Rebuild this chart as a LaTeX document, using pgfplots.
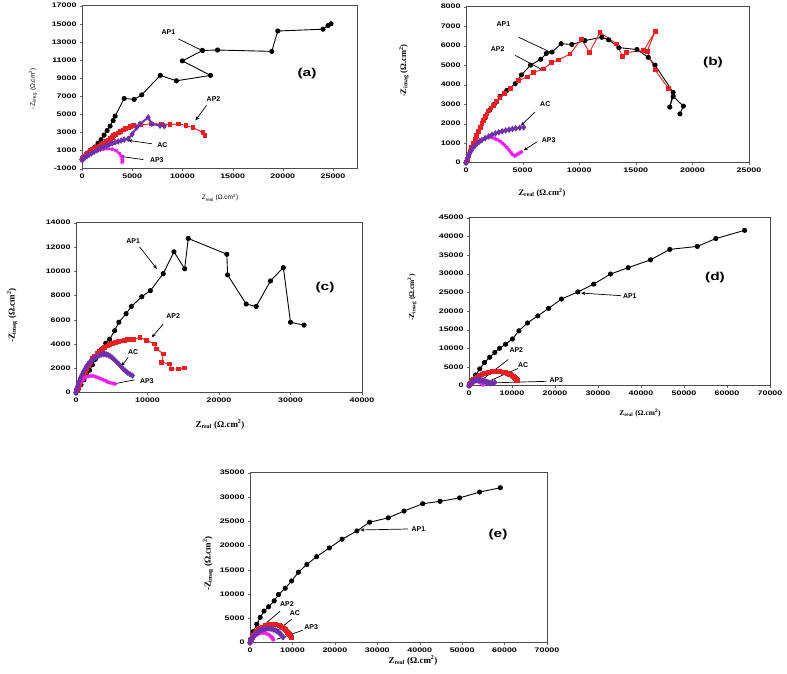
\documentclass[border=0pt]{standalone}
\usepackage{fontspec}
\setmainfont{Liberation Serif}
\setsansfont{Liberation Sans}
\newfontfamily\tickfont[FakeStretch=1.35]{Liberation Sans}
\usepackage{pgfplots}
\pgfplotsset{compat=1.18}
\usetikzlibrary{arrows.meta}
\definecolor{cred}{RGB}{235,30,35}
\definecolor{cpur}{RGB}{112,48,170}
\definecolor{cmag}{RGB}{240,30,240}
\pgfplotsset{
  panel/.style={scale only axis, anchor=south west,
    axis line style={draw=black!70,line width=1pt},
    tick label style={font=\tickfont\bfseries\fontsize{6.6}{7}\selectfont},
    /pgf/number format/assume math mode=true,
    /pgf/number format/1000 sep={},
    scaled ticks=false, tick align=outside, major tick length=2pt,
    tick style={black!60}, clip=false,
    xtick pos=bottom, ytick pos=left},
  ap1/.style={black, line width=0.9pt, mark=*, mark size=2.1pt},
  ap2/.style={cred, line width=0.9pt, mark=square*, mark size=1.9pt},
  ac/.style={cpur, line width=2pt, mark=diamond*, mark size=1.7pt},
  ap3/.style={cmag, line width=2pt, mark=asterisk, mark size=2pt, mark options={line width=1pt}},
}
\tikzset{
  ann/.style={font=\sffamily\bfseries\fontsize{7}{8}\selectfont},
  arr/.style={-{Stealth[length=4pt,width=3.5pt]}, line width=0.7pt}
}
\newcommand{\ylab}{-Z\textsubscript{imag} (Ω.cm\textsuperscript{2})}
\newcommand{\xlab}{Z\textsubscript{real} (Ω.cm\textsuperscript{2})}
\begin{document}
\begin{tikzpicture}[x=1bp,y=1bp]
\path (0,0) rectangle (787,-673);
% ---------- (a)
\begin{axis}[panel, at={(82bp,-168bp)}, width=275bp, height=163bp,
  xmin=0, xmax=27390, ymin=-1000, ymax=17000,
  xtick={0,5000,...,25000}, ytick={-1000,1000,...,17000}]
\addplot[ap1] coordinates {(0,0)(150,120)(400,350)(700,650)(1000,1000)(1300,1400)(1600,1800)(1900,2200)(2200,2700)(2500,3200)(2800,3700)(3100,4300)(3300,4800)(4200,6750)(5200,6650)(5950,7150)(7800,9300)(9400,8700)(12800,9300)(10000,10900)(12000,12050)(13500,12100)(18900,11950)(19500,14200)(24000,14400)(24500,14800)(24800,15000)};
\addplot[ap2] coordinates {(0,0)(80,150)(150,250)(250,380)(400,550)(550,700)(700,850)(850,980)(1000,1100)(1200,1220)(1460,1350)(1700,1500)(1900,1650)(2150,1820)(2400,2000)(2600,2150)(2800,2300)(3000,2480)(3120,2640)(3350,2800)(3600,2950)(3850,3100)(4100,3270)(4350,3400)(4600,3500)(4850,3620)(5100,3750)(5800,3850)(6940,3940)(7940,3940)(8760,3860)(9600,3940)(10360,3750)(11060,3530)(12050,3000)(12250,2640)};
\addplot[ap3] coordinates {(0,0)(150,150)(300,300)(500,450)(700,600)(950,750)(1200,900)(1500,1000)(1800,1100)(2150,1150)(2500,1200)(3000,1150)(3400,1000)(3700,700)(3900,400)(4000,100)(4050,-100)(4000,-300)};
\addplot[ac] coordinates {(0,0)(150,130)(300,250)(500,400)(700,550)(950,700)(1200,850)(1500,1020)(1800,1200)(2100,1350)(2400,1500)(2700,1650)(3000,1800)(3300,1900)(3600,2000)(3900,2100)(4200,2200)(4600,2300)(5000,2800)(5450,3560)(5780,3940)(6600,4660)(6940,3940)(7770,3750)(8200,3700)};
\node[ann] at (8600,14060) {AP1};
\draw[arr] (9600,13330) -- (12100,11970);
\node[ann] at (13100,6710) {AP2};
\draw[arr] (12400,5980) -- (11300,4330);
\node[ann] at (8000,1570) {AC};
\draw[arr] (6950,1750) -- (4600,2120);
\node[ann] at (7450,-80) {AP3};
\draw[arr] (6100,0) -- (3800,360);
\end{axis}
\node[font=\tickfont\bfseries\fontsize{11.5}{12}\selectfont] at (307,-73) {(a)};
\node[font=\sffamily\fontsize{6.5}{7}\selectfont] at (220,-197) {\xlab};
\node[font=\sffamily\fontsize{6.5}{7}\selectfont, rotate=90] at (33,-88) {\ylab};
% ---------- (b)
\begin{axis}[panel, at={(466bp,-162bp)}, width=283bp, height=156bp,
  xmin=0, xmax=25000, ymin=0, ymax=8000,
  xtick={0,5000,...,25000}, ytick={0,1000,...,8000}]
\addplot[ap1] coordinates {(0,0)(200,400)(500,800)(900,1300)(1300,1800)(1700,2300)(2100,2700)(2500,3000)(3000,3400)(3600,3700)(4350,4050)(4900,4500)(5700,5000)(6600,5300)(7100,5600)(7600,5670)(8400,6100)(9350,6060)(10500,6260)(12000,6430)(12600,6300)(13500,5900)(15100,5800)(16100,5400)(16700,5000)(18300,3600)(18000,2850)(18300,3400)(19200,2900)(18900,2500)};
\addplot[ap2] coordinates {(0,0)(100,180)(200,350)(350,580)(500,800)(650,1000)(800,1200)(950,1400)(1100,1600)(1250,1800)(1400,2000)(1550,2180)(1700,2350)(1850,2500)(2000,2650)(2200,2800)(2400,2950)(2700,3150)(3000,3360)(3400,3550)(3900,3800)(4650,4200)(5400,4400)(5950,4630)(6830,4800)(7570,5140)(8150,5270)(9190,5570)(10200,6340)(10900,5660)(11840,6680)(13300,6090)(13840,5440)(14200,5650)(15700,5750)(16700,6720)(16000,5700)(16700,4750)(17900,3800)};
\addplot[ap3] coordinates {(0,0)(100,200)(200,330)(300,450)(450,600)(600,750)(800,880)(1000,1000)(1250,1100)(1500,1200)(1750,1260)(2000,1300)(2250,1290)(2500,1250)(2750,1180)(3000,1100)(3200,1000)(3400,900)(3600,780)(3800,650)(3950,530)(4100,420)(4300,350)(4450,400)(4600,450)(4750,500)(4900,550)};
\addplot[ac] coordinates {(0,0)(100,200)(200,330)(300,450)(450,600)(600,750)(800,880)(1000,1000)(1200,1090)(1400,1160)(1700,1260)(2000,1350)(2300,1430)(2600,1500)(2900,1560)(3200,1610)(3500,1650)(3800,1690)(4100,1730)(4400,1760)(4750,1790)(5100,1810)};
\node[ann] at (3300,7100) {AP1};
\draw[arr] (4650,6430) -- (7700,5600);
\node[ann] at (2800,5800) {AP2};
\draw[arr] (4350,5500) -- (6850,4730);
\node[ann] at (7000,3000) {AC};
\draw[arr] (6100,2600) -- (4850,1900);
\node[ann] at (7300,1180) {AP3};
\draw[arr] (6250,1060) -- (5100,630);
\end{axis}
\node[font=\tickfont\bfseries\fontsize{11.5}{12}\selectfont] at (713,-62) {(b)};
\node[font=\bfseries\fontsize{8.5}{9}\selectfont] at (542,-192) {\xlab};
\node[font=\bfseries\fontsize{8.5}{9}\selectfont, rotate=90] at (404,-70) {\ylab};
% ---------- (c)
\begin{axis}[panel, at={(76bp,-392bp)}, width=286bp, height=170bp,
  xmin=0, xmax=40000, ymin=0, ymax=14000,
  xtick={0,10000,...,40000}, ytick={0,2000,...,14000}]
\addplot[ap1] coordinates {(0,0)(300,250)(700,650)(1100,1050)(1500,1450)(1900,1850)(2300,2300)(2700,2750)(3100,3150)(3600,3600)(4160,4080)(4700,4400)(5400,5100)(6000,5800)(7000,6500)(7750,7100)(9200,7900)(10400,8400)(12200,9800)(13700,11600)(15200,10200)(15700,12700)(21100,11400)(21200,9700)(23800,7300)(25200,7100)(27200,9200)(29000,10300)(30000,5800)(31900,5560)};
\addplot[ap2] coordinates {(0,0)(100,150)(200,300)(350,500)(500,700)(700,950)(900,1200)(1100,1450)(1300,1700)(1500,1950)(1700,2200)(1900,2400)(2100,2600)(2350,2800)(2600,3000)(2950,3200)(3300,3400)(3650,3580)(4000,3750)(4350,3850)(4700,3950)(5100,4050)(5500,4150)(5900,4200)(6300,4250)(6750,4300)(7200,4350)(7600,4370)(8000,4380)(8950,4550)(9900,4280)(11000,4010)(11300,3600)(12200,3190)(12000,2500)(13100,2360)(13400,1950)(14300,1950)(15200,2030)};
\addplot[ap3] coordinates {(0,0)(100,250)(200,400)(300,550)(450,700)(600,850)(800,980)(1000,1100)(1250,1200)(1500,1300)(1750,1350)(2000,1380)(2250,1380)(2500,1370)(2750,1310)(3000,1250)(3300,1180)(3600,1120)(3850,1050)(4100,980)(4300,920)(4500,860)(4750,820)(5000,780)(5250,750)(5450,720)};
\addplot[ac] coordinates {(0,0)(50,150)(100,300)(200,500)(300,700)(450,950)(600,1200)(800,1450)(1000,1700)(1250,1950)(1500,2200)(1750,2380)(2000,2550)(2300,2700)(2600,2850)(2900,2950)(3200,3050)(3500,3120)(3800,3170)(4050,3170)(4300,3150)(4550,3080)(4800,3000)(5100,2850)(5400,2700)(5700,2520)(6000,2350)(6300,2150)(6600,1950)(6900,1800)(7200,1650)(7550,1520)(7900,1400)};
\node[ann] at (8000,12500) {AP1};
\draw[arr] (8900,12000) -- (11300,10200);
\node[ann] at (13600,6300) {AP2};
\draw[arr] (12200,5650) -- (10600,4550);
\node[ann] at (8000,3300) {AC};
\draw[arr] (7300,2900) -- (6350,2200);
\node[ann] at (9900,960) {AP3};
\draw[arr] (8200,1050) -- (5000,690);
\end{axis}
\node[font=\tickfont\bfseries\fontsize{11.5}{12}\selectfont] at (325,-287) {(c)};
\node[font=\bfseries\fontsize{9}{10}\selectfont] at (220,-424) {\xlab};
\node[font=\bfseries\fontsize{9}{10}\selectfont, rotate=90] at (12,-315) {\ylab};
% ---------- (d)
\begin{axis}[panel, at={(469bp,-385bp)}, width=301bp, height=168bp,
  xmin=0, xmax=70000, ymin=0, ymax=45000,
  xtick={0,10000,...,70000}, ytick={0,5000,...,45000}]
\addplot[ap1] coordinates {(0,0)(200,300)(800,1300)(1550,2850)(2500,4500)(3600,6200)(4800,7600)(6000,8900)(7100,10000)(8500,11100)(10100,12500)(11600,14700)(13600,16800)(16000,18700)(18500,20700)(21500,23200)(25300,25100)(29000,27200)(32900,29900)(37000,31600)(42200,33700)(46700,36500)(53100,37300)(57400,39400)(64100,41600)};
\addplot[ap2] coordinates {(0,0)(150,300)(300,600)(550,950)(800,1300)(1100,1650)(1500,2000)(2000,2350)(2500,2700)(3000,2950)(3500,3200)(4000,3400)(4500,3550)(5000,3650)(5500,3750)(6000,3800)(6500,3800)(7000,3780)(7500,3700)(8000,3600)(8500,3450)(8900,3300)(9300,3100)(9700,2900)(10000,2700)(10300,2450)(10600,2200)(10800,1950)(11000,1700)(11150,1500)(11300,1300)};
\addplot[ap3] coordinates {(0,0)(100,200)(200,400)(350,600)(500,800)(700,950)(900,1100)(1150,1200)(1400,1250)(1650,1250)(1900,1200)(2150,1100)(2400,1000)(2600,850)(2800,700)(2950,550)(3100,400)(3300,200)};
\addplot[ac] coordinates {(0,0)(100,200)(200,400)(350,600)(500,800)(750,1000)(1000,1200)(1250,1350)(1500,1450)(1750,1520)(2000,1550)(2250,1560)(2500,1550)(2750,1500)(3000,1450)(3250,1350)(3500,1250)(3750,1120)(4000,1000)(4250,900)(4500,800)(4750,720)(5000,650)(5500,700)(6000,900)};
\node[ann] at (37400,24100) {AP1};
\draw[arr] (35400,24100) -- (26100,24800);
\node[ann] at (11000,9400) {AP2};
\draw[line width=0.7pt] (9100,7000) -- (3300,1800);
\node[ann] at (12600,5500) {AC};
\draw[line width=0.7pt] (11400,4600) -- (4800,1300);
\node[ann] at (20300,1500) {AP3};
\draw[line width=0.7pt] (18000,1160) -- (4000,700);
\end{axis}
\node[font=\tickfont\bfseries\fontsize{11.5}{12}\selectfont] at (715,-277) {(d)};
\node[font=\bfseries\fontsize{7.5}{8}\selectfont] at (640,-412) {\xlab};
\node[font=\bfseries\fontsize{7.5}{8}\selectfont, rotate=90] at (412,-297) {\ylab};
% ---------- (e)
\begin{axis}[panel, at={(250bp,-642bp)}, width=297bp, height=170bp,
  xmin=0, xmax=70000, ymin=0, ymax=35000,
  xtick={0,10000,...,70000}, ytick={0,5000,...,35000}]
\addplot[ap1] coordinates {(0,0)(150,700)(800,2300)(1600,3800)(2400,5200)(3300,6500)(4400,7400)(5700,8600)(6700,9900)(8300,11200)(9800,12700)(11400,14500)(13400,16100)(15700,17700)(18700,19500)(21700,21300)(25200,23000)(28200,24800)(32600,25700)(36300,27100)(40700,28600)(44800,29100)(49400,29800)(54100,31000)(59000,31900)};
\addplot[ap2] coordinates {(0,0)(150,350)(300,700)(550,1100)(800,1500)(1150,1900)(1500,2300)(2000,2650)(2500,3000)(3000,3250)(3500,3500)(4000,3650)(4500,3750)(5000,3800)(5500,3800)(6000,3750)(6500,3650)(6900,3500)(7300,3350)(7650,3150)(8000,2900)(8300,2650)(8600,2400)(8850,2150)(9100,1900)(9300,1650)(9500,1400)(9650,1250)(9800,1100)};
\addplot[ap3] coordinates {(0,0)(100,200)(200,400)(400,650)(600,900)(900,1150)(1200,1400)(1600,1600)(2000,1800)(2400,1900)(2800,2000)(3200,2000)(3600,1950)(3950,1850)(4300,1700)(4600,1500)(4900,1300)(5100,1100)(5300,900)(5400,750)(5500,600)};
\addplot[ac] coordinates {(0,0)(100,250)(200,500)(400,800)(600,1100)(900,1400)(1200,1700)(1600,2000)(2000,2300)(2500,2500)(3000,2700)(3500,2820)(4000,2900)(4500,2900)(5000,2850)(5500,2720)(6000,2550)(6400,2330)(6800,2100)(7100,1850)(7400,1600)(7600,1350)(7800,1100)};
\node[ann] at (39700,23400) {AP1};
\draw[arr] (37200,23400) -- (26000,23200);
\node[ann] at (8700,7900) {AP2};
\draw[line width=0.7pt] (7100,6500) -- (3900,4100);
\node[ann] at (10600,6000) {AC};
\draw[line width=0.7pt] (9800,4800) -- (6300,2400);
\node[ann] at (14400,3200) {AP3};
\draw[line width=0.7pt] (12400,2550) -- (6300,700);
\end{axis}
\node[font=\tickfont\bfseries\fontsize{11.5}{12}\selectfont] at (498,-534) {(e)};
\node[font=\bfseries\fontsize{9}{10}\selectfont] at (413,-660) {\xlab};
\node[font=\bfseries\fontsize{9}{10}\selectfont, rotate=90] at (208,-563) {\ylab};
\end{tikzpicture}
\end{document}
